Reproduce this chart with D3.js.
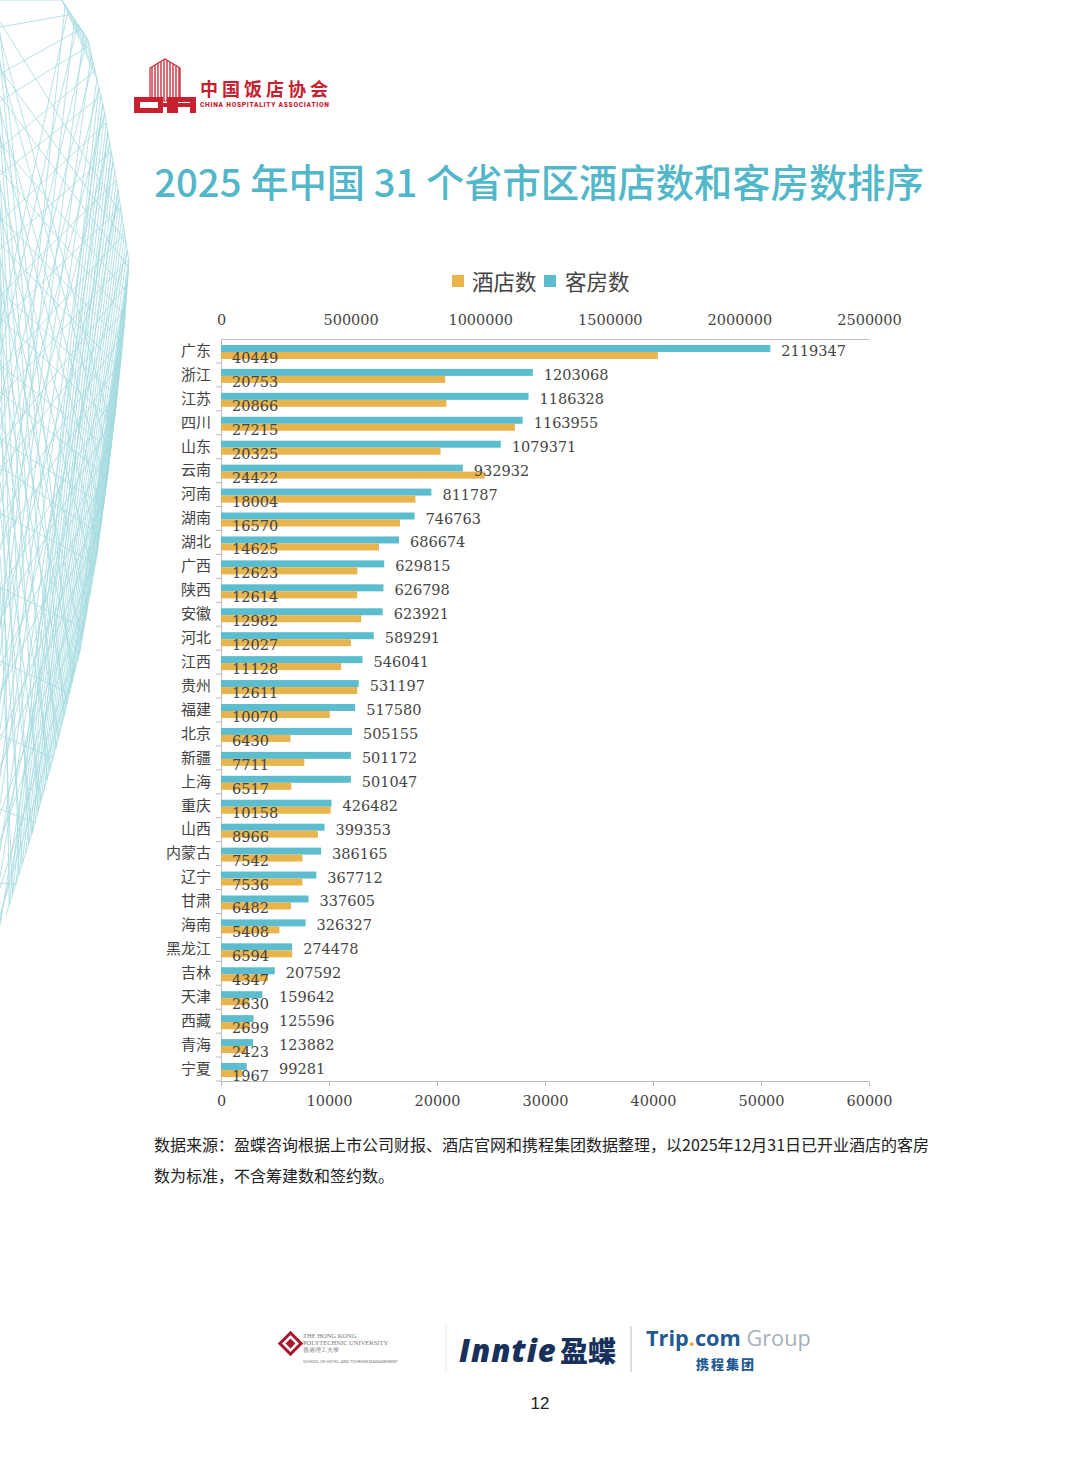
<!DOCTYPE html>
<html lang="zh">
<head>
  <meta charset="UTF-8">
  <title>2025年中国31个省市区酒店数和客房数排序</title>
  <script src="https://d3js.org/d3.v7.min.js"></script>
  <style>
    html, body { margin: 0; padding: 0; background: #fff; }
    svg { display: block; }
    .num { font-family: "DejaVu Serif", "Liberation Serif", serif; fill: #444; }
    .cjk { font-family: "Noto Sans CJK SC", sans-serif; }
  </style>
</head>
<body>
  <div id="page"></div>
  <script>
    // Data (top to bottom)
    const provinces = ['广东','浙江','江苏','四川','山东','云南','河南','湖南','湖北','广西',
      '陕西','安徽','河北','江西','贵州','福建','北京','新疆','上海','重庆',
      '山西','内蒙古','辽宁','甘肃','海南','黑龙江','吉林','天津','西藏','青海','宁夏'];
    const hotels = [40449,20753,20866,27215,20325,24422,18004,16570,14625,12623,
      12614,12982,12027,11128,12611,10070,6430,7711,6517,10158,
      8966,7542,7536,6482,5408,6594,4347,2630,2699,2423,1967];
    const rooms = [2119347,1203068,1186328,1163955,1079371,932932,811787,746763,686674,629815,
      626798,623921,589291,546041,531197,517580,505155,501172,501047,426482,
      399353,386165,367712,337605,326327,274478,207592,159642,125596,123882,99281];
    const roomTicks = [0,500000,1000000,1500000,2000000,2500000];
    const hotelTicks = [0,10000,20000,30000,40000,50000,60000];
    const seriesNames = ['酒店数','客房数'];

    const W = 1080, H = 1466;
    const colHotel = '#E9B44C', colRoom = '#5BBDCE';
    const plot = {left: 221, right: 869, top: 339, bottom: 1081};

    const svg = d3.select('#page').append('svg')
      .attr('width', W).attr('height', H);
    svg.append('rect').attr('width', W).attr('height', H).attr('fill', '#fff');

    // ---- decorative wire mesh on the left edge ----
    const edge = [[62,0],[88,40],[104,110],[118,190],[129,262],[124,330],[116,405],
      [107,480],[96,560],[80,650],[58,740],[33,830],[6,915]];
    const edgeAt = t => {
      const f = t * (edge.length - 1), i = Math.min(Math.floor(f), edge.length - 2), r = f - i;
      return [edge[i][0] + (edge[i+1][0] - edge[i][0]) * r, edge[i][1] + (edge[i+1][1] - edge[i][1]) * r];
    };
    const mesh = svg.append('g').attr('stroke', '#86CFD5').attr('stroke-width', 0.8)
      .attr('fill', 'none').attr('opacity', 0.75);
    mesh.append('path').attr('d', d3.line()(edge));
    for (let k = 0; k < 90; k++) {
      const y0 = (k * 37) % 930;
      const p = edgeAt(((k * 53) % 100) / 100);
      mesh.append('line').attr('x1', 0).attr('y1', y0).attr('x2', p[0]).attr('y2', p[1]);
    }
    for (let k = 0; k < 55; k++) {
      const a = edgeAt(((k * 29) % 100) / 100), b = edgeAt(((k * 71 + 13) % 100) / 100);
      mesh.append('line').attr('x1', a[0]).attr('y1', a[1]).attr('x2', b[0]).attr('y2', b[1]);
    }

    // ---- header logo ----
    const logo = svg.append('g');
    const red = '#C8202F';
    logo.append('polygon').attr('points', '150,101 150,68 165,59 180,68 180,101')
      .attr('fill', 'none').attr('stroke', red).attr('stroke-width', 1.2);
    for (let x = 152; x < 180; x += 3) {
      logo.append('line').attr('x1', x).attr('x2', x).attr('y1', 68 - (x < 165 ? (x - 150) * 0.55 : (180 - x) * 0.55))
        .attr('y2', 101).attr('stroke', red).attr('stroke-width', 1.3);
    }
    logo.append('path').attr('d', 'M134,97H158V102H140V108H158V113H134Z').attr('fill', red);
    logo.append('path').attr('d', 'M158,97H163V103H167V97H172V113H167V107H163V113H158Z').attr('fill', red);
    logo.append('path').attr('d', 'M172,97H196V113H190V107H178V113H172ZM178,102V103H190V102Z').attr('fill', red);
    logo.append('text').attr('x', 200).attr('y', 96).attr('fill', red)
      .attr('font-family', '"Noto Sans CJK SC", sans-serif').attr('font-size', 18).attr('font-weight', 700)
      .attr('letter-spacing', 4).text('中国饭店协会');
    logo.append('text').attr('x', 200).attr('y', 107).attr('fill', red)
      .attr('font-family', 'Roboto, sans-serif').attr('font-size', 6.6).attr('font-weight', 900)
      .attr('textLength', 129).text('CHINA HOSPITALITY ASSOCIATION');

    // ---- title ----
    svg.append('text').attr('class', 'cjk').attr('x', 539).attr('y', 197)
      .attr('text-anchor', 'middle').attr('font-size', 38.3).attr('font-weight', 500)
      .attr('fill', '#52B7C9').text('2025 年中国 31 个省市区酒店数和客房数排序');

    // ---- legend ----
    const legend = svg.append('g');
    [[452, 472, colHotel], [544, 565, colRoom]].forEach((d, i) => {
      legend.append('rect').attr('x', d[0]).attr('y', 275).attr('width', 12).attr('height', 12).attr('fill', d[2]);
      legend.append('text').attr('class', 'cjk').attr('x', d[1]).attr('y', 290)
        .attr('font-size', 21.5).attr('fill', '#444').text(seriesNames[i]);
    });

    // ---- scales ----
    const y = d3.scaleBand().domain(provinces).range([plot.top, plot.bottom]);
    const xRoom = d3.scaleLinear().domain([0, 2500000]).range([plot.left, plot.right]);
    const xHotel = d3.scaleLinear().domain([0, 60000]).range([plot.left, plot.right]);
    const bw = y.bandwidth();
    const mid = p => y(p) + bw / 2;

    // ---- axes ----
    const axisColor = '#BDBDBD';
    const topAxis = svg.append('g').attr('transform', `translate(0,${plot.top})`)
      .call(d3.axisTop(xRoom).tickValues(roomTicks).tickSize(0).tickPadding(14).tickFormat(d3.format('d')));
    const botAxis = svg.append('g').attr('transform', `translate(0,${plot.bottom})`)
      .call(d3.axisBottom(xHotel).tickValues(hotelTicks).tickSize(5).tickPadding(10).tickFormat(d3.format('d')));
    [topAxis, botAxis].forEach(g => {
      g.select('.domain').attr('stroke', axisColor);
      g.selectAll('.tick line').attr('stroke', axisColor);
      g.selectAll('.tick text').attr('class', 'num').attr('font-size', 14.5).attr('fill', '#444');
    });

    const leftAxis = svg.append('g').attr('transform', `translate(${plot.left},0)`)
      .call(d3.axisLeft(y).tickSize(0).tickPadding(10));
    leftAxis.select('.domain').attr('stroke', axisColor);
    leftAxis.selectAll('.tick text').attr('class', 'cjk').attr('font-size', 15).attr('fill', '#444');
    // small ticks on the band boundaries
    svg.append('g').selectAll('line').data(provinces).join('line')
      .attr('x1', plot.left - 5).attr('x2', plot.left)
      .attr('y1', d => y(d) + bw).attr('y2', d => y(d) + bw)
      .attr('stroke', axisColor);

    // ---- bars ----
    svg.append('g').selectAll('rect').data(provinces).join('rect')
      .attr('x', xRoom(0)).attr('y', d => mid(d) - 6)
      .attr('width', (d, i) => xRoom(rooms[i]) - xRoom(0)).attr('height', 7)
      .attr('fill', colRoom);
    svg.append('g').selectAll('rect').data(provinces).join('rect')
      .attr('x', xHotel(0)).attr('y', d => mid(d) + 1)
      .attr('width', (d, i) => xHotel(hotels[i]) - xHotel(0)).attr('height', 7)
      .attr('fill', colHotel);

    // ---- value labels ----
    // room labels sit after the bar, but never on top of the hotel label
    svg.append('g').selectAll('text').data(provinces).join('text')
      .attr('class', 'num').attr('font-size', 14.5)
      .attr('x', (d, i) => Math.max(xRoom(rooms[i]) + 11, plot.left + 58)).attr('y', d => mid(d) + 5)
      .text((d, i) => rooms[i]);
    svg.append('g').selectAll('text').data(provinces).join('text')
      .attr('class', 'num').attr('font-size', 14.5)
      .attr('x', xHotel(0) + 11).attr('y', d => mid(d) + 12)
      .text((d, i) => hotels[i]);

    // ---- source note ----
    const note = svg.append('g').attr('class', 'cjk').attr('font-size', 16).attr('fill', '#222');
    note.append('text').attr('x', 154).attr('y', 1151)
      .text('数据来源：盈蝶咨询根据上市公司财报、酒店官网和携程集团数据整理，以2025年12月31日已开业酒店的客房');
    note.append('text').attr('x', 154).attr('y', 1182).text('数为标准，不含筹建数和签约数。');

    // ---- footer logos ----
    const foot = svg.append('g');
    const polyRed = '#A8192E';
    foot.append('rect').attr('x', 283).attr('y', 1336).attr('width', 15).attr('height', 15)
      .attr('transform', 'rotate(45 290.5 1343.5)').attr('fill', 'none').attr('stroke', polyRed).attr('stroke-width', 3);
    foot.append('rect').attr('x', 287).attr('y', 1340).attr('width', 7).attr('height', 7)
      .attr('transform', 'rotate(45 290.5 1343.5)').attr('fill', polyRed);
    const polyText = foot.append('g').attr('font-family', '"Liberation Serif", serif').attr('fill', '#777');
    polyText.append('text').attr('x', 303).attr('y', 1338).attr('font-size', 6.5).text('THE HONG KONG');
    polyText.append('text').attr('x', 303).attr('y', 1345).attr('font-size', 6.5).text('POLYTECHNIC UNIVERSITY');
    polyText.append('text').attr('x', 303).attr('y', 1352).attr('font-size', 5.5).text('香港理工大學');
    polyText.append('text').attr('x', 303).attr('y', 1363).attr('font-size', 4.2)
      .attr('font-family', 'Roboto, sans-serif').text('SCHOOL OF HOTEL AND TOURISM MANAGEMENT');
    foot.append('line').attr('x1', 446).attr('x2', 446).attr('y1', 1324).attr('y2', 1372).attr('stroke', '#e8e8e8');
    foot.append('line').attr('x1', 631).attr('x2', 631).attr('y1', 1326).attr('y2', 1372).attr('stroke', '#bbb');
    foot.append('text').attr('x', 459).attr('y', 1362).attr('fill', '#17305C')
      .attr('font-family', '"Open Sans", sans-serif').attr('font-size', 31).attr('font-weight', 800)
      .attr('font-style', 'italic').attr('letter-spacing', 1).text('Inntie');
    foot.append('text').attr('x', 560).attr('y', 1362).attr('fill', '#17305C')
      .attr('class', 'cjk').attr('font-size', 28).attr('font-weight', 900).text('盈蝶');
    const trip = foot.append('text').attr('x', 646).attr('y', 1346)
      .attr('font-family', '"Open Sans", sans-serif').attr('font-size', 21.7);
    trip.append('tspan').attr('fill', '#1F5A92').attr('font-weight', 700).text('Trip');
    trip.append('tspan').attr('fill', '#F3A21C').attr('font-weight', 700).text('.');
    trip.append('tspan').attr('fill', '#1F5A92').attr('font-weight', 700).text('com');
    trip.append('tspan').attr('fill', '#A7B0B7').attr('font-weight', 400).text(' Group');
    foot.append('text').attr('class', 'cjk').attr('x', 726).attr('y', 1369).attr('text-anchor', 'middle')
      .attr('font-size', 13).attr('font-weight', 900).attr('fill', '#1F5A92').attr('letter-spacing', 2).text('携程集团');

    // page number
    svg.append('text').attr('x', 540).attr('y', 1409).attr('text-anchor', 'middle')
      .attr('font-family', '"Liberation Sans", Arial, sans-serif').attr('font-size', 17).attr('fill', '#222').text('12');
  </script>
</body>
</html>
